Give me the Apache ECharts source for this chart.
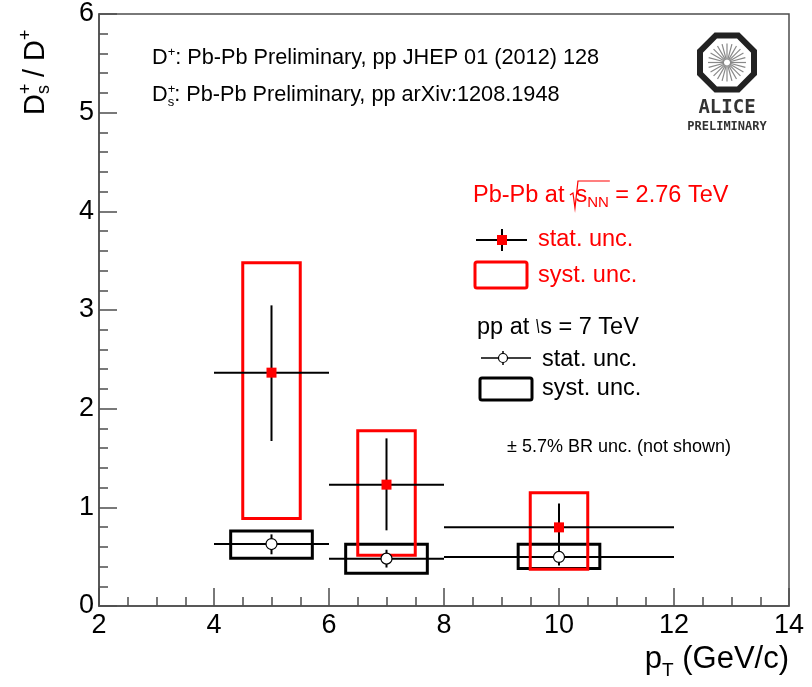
<!DOCTYPE html>
<html><head><meta charset="utf-8">
<script src="https://cdn.jsdelivr.net/npm/echarts@6/dist/echarts.min.js"></script>
<style>html,body{margin:0;padding:0;background:#fff}#c{width:812px;height:687px}</style>
</head><body><div id="c"></div>
<script>
// ---------------- data ----------------
const ptCenter   = [5, 7, 10];
const ptBinLow   = [4, 6, 8];
const ptBinHigh  = [6, 8, 12];

const pbpbValue    = [2.365, 1.23, 0.797];
const pbpbStatLow  = [1.672, 0.767, 0.555];
const pbpbStatHigh = [3.047, 1.699, 1.04];
const pbpbSystLow  = [0.886, 0.514, 0.372];
const pbpbSystHigh = [3.479, 1.777, 1.149];
const pbpbSystXLow = [4.5, 6.5, 9.5];
const pbpbSystXHigh= [5.5, 7.5, 10.5];

const ppValue    = [0.628, 0.48, 0.497];
const ppStatLow  = [0.524, 0.39, 0.41];
const ppStatHigh = [0.726, 0.57, 0.59];
const ppSystLow  = [0.483, 0.331, 0.379];
const ppSystHigh = [0.76, 0.625, 0.625];
const ppSystXLow = [4.29, 6.29, 9.29];
const ppSystXHigh= [5.71, 7.71, 10.71];

const xTickLabels = [2, 4, 6, 8, 10, 12, 14];
const yTickLabels = [0, 1, 2, 3, 4, 5, 6];

// ---------------- helpers ----------------
const FF = '"Liberation Sans", Arial, Helvetica, sans-serif';
const mctx = document.createElement('canvas').getContext('2d');
function tw(t, font) { mctx.font = font; return mctx.measureText(t).width; }
// pieces: {t, s, dy, hold, c}
function run(x0, base, pieces, color, align) {
  let total = 0;
  pieces.forEach(p => { if (!p.hold) total += tw(p.t, p.s + 'px ' + FF); });
  let x = align === 'right' ? x0 - total : x0;
  const els = [];
  pieces.forEach(p => {
    const font = p.s + 'px ' + FF;
    els.push({ type: 'text', x: x, y: base + (p.dy || 0) - 0.31 * p.s, silent: true,
      style: { text: p.t, font: font, fill: p.c || color, verticalAlign: 'middle', align: 'left' } });
    p.x = x;
    if (!p.hold) x += tw(p.t, font);
    p.xe = x;
  });
  return els;
}
const AX = '#4d4d4d';
const LF = 23.5; // legend font size

function boxSeries(xl, xh, yl, yh, color) {
  return {
    type: 'custom', silent: true, animation: false, clip: false,
    data: xl.map((v, i) => [xl[i], xh[i], yl[i], yh[i]]),
    renderItem(params, api) {
      const a = api.coord([api.value(0), api.value(3)]);
      const b = api.coord([api.value(1), api.value(2)]);
      return { type: 'rect', shape: { x: a[0], y: a[1], width: b[0] - a[0], height: b[1] - a[1] },
        style: { fill: 'none', stroke: color, lineWidth: 3 } };
    }
  };
}
function statSeries(xc, xl, xh, v, lo, hi, lw) {
  return {
    type: 'custom', silent: true, animation: false, clip: false,
    data: xc.map((c, i) => [xc[i], v[i], xl[i], xh[i], lo[i], hi[i]]),
    renderItem(params, api) {
      const l = api.coord([api.value(2), api.value(1)]);
      const r = api.coord([api.value(3), api.value(1)]);
      const t = api.coord([api.value(0), api.value(5)]);
      const b = api.coord([api.value(0), api.value(4)]);
      return { type: 'group', children: [
        { type: 'line', shape: { x1: l[0], y1: l[1], x2: r[0], y2: r[1] }, style: { stroke: '#000', lineWidth: lw } },
        { type: 'line', shape: { x1: t[0], y1: t[1], x2: b[0], y2: b[1] }, style: { stroke: '#000', lineWidth: lw } }
      ] };
    }
  };
}

// ---------------- graphic (texts, legend, logo) ----------------
const G = [];
// top-left notes
G.push(...run(152, 65, [
  { t: 'D', s: 21.7 }, { t: '+', s: 13, dy: -9 },
  { t: ': Pb-Pb Preliminary, pp JHEP 01 (2012) 128', s: 21.7 }
], '#000'));
G.push(...run(152, 102, [
  { t: 'D', s: 21.7 }, { t: '+', s: 13, dy: -9, hold: true }, { t: 's', s: 13, dy: 4 },
  { t: ': Pb-Pb Preliminary, pp arXiv:1208.1948', s: 21.7 }
], '#000'));

// Pb-Pb legend title
{
  const p = [
    { t: 'Pb-Pb at ', s: LF }, { t: '  ', s: 8 }, { t: 's', s: LF }, { t: 'NN', s: 15, dy: 5 },
    { t: ' = 2.76 TeV', s: LF }
  ];
  G.push(...run(473, 203, p, '#ff0000'));
  const rx = p[1].x, base = 203;
  G.push({ type: 'polyline', silent: true, shape: { points: [[rx - 1, base - 8], [rx + 2, base - 10], [rx + 4, base + 5], [rx + 7, base - 22], [p[3].xe + 1, base - 22]] },
    style: { stroke: '#ff0000', lineWidth: 1.2, fill: 'none' } });
}
// pp legend title
{
  const p = [
    { t: 'pp at ', s: LF }, { t: '  ', s: 8 }, { t: 's = 7 TeV', s: LF }
  ];
  G.push(...run(477, 335, p, '#000'));
  const rx = p[1].x;
  G.push({ type: 'line', silent: true, shape: { x1: rx + 1, y1: 335 - 16, x2: rx + 3, y2: 335 - 2 }, style: { stroke: '#000', lineWidth: 1.2 } });
}
// legend samples
G.push({ type: 'line', silent: true, shape: { x1: 476, y1: 240, x2: 527, y2: 240 }, style: { stroke: '#000', lineWidth: 2 } });
G.push({ type: 'line', silent: true, shape: { x1: 502, y1: 229, x2: 502, y2: 251 }, style: { stroke: '#000', lineWidth: 2 } });
G.push({ type: 'rect', silent: true, shape: { x: 497, y: 235, width: 10, height: 10 }, style: { fill: '#ff0000' } });
G.push({ type: 'text', silent: true, x: 538, y: 240, style: { text: 'stat. unc.', font: LF + 'px ' + FF, fill: '#ff0000', verticalAlign: 'middle' } });
G.push({ type: 'rect', silent: true, shape: { x: 475, y: 262, width: 52, height: 26, r: 2 }, style: { fill: 'none', stroke: '#ff0000', lineWidth: 3 } });
G.push({ type: 'text', silent: true, x: 538, y: 276, style: { text: 'syst. unc.', font: LF + 'px ' + FF, fill: '#ff0000', verticalAlign: 'middle' } });

G.push({ type: 'line', silent: true, shape: { x1: 481, y1: 358, x2: 531, y2: 358 }, style: { stroke: '#000', lineWidth: 1.5 } });
G.push({ type: 'line', silent: true, shape: { x1: 503, y1: 351, x2: 503, y2: 365 }, style: { stroke: '#000', lineWidth: 1.5 } });
G.push({ type: 'circle', silent: true, shape: { cx: 503, cy: 358, r: 4.5 }, style: { fill: '#fff', stroke: '#000', lineWidth: 1.2 } });
G.push({ type: 'text', silent: true, x: 542, y: 360, style: { text: 'stat. unc.', font: LF + 'px ' + FF, fill: '#000', verticalAlign: 'middle' } });
G.push({ type: 'rect', silent: true, shape: { x: 480, y: 378, width: 52, height: 22, r: 2 }, style: { fill: 'none', stroke: '#000', lineWidth: 3 } });
G.push({ type: 'text', silent: true, x: 542, y: 389, style: { text: 'syst. unc.', font: LF + 'px ' + FF, fill: '#000', verticalAlign: 'middle' } });

G.push({ type: 'text', silent: true, x: 507, y: 447, style: { text: '\u00b1 5.7% BR unc. (not shown)', font: '18px ' + FF, fill: '#000', verticalAlign: 'middle' } });

// axis titles
G.push({ type: 'group', x: 45, y: 115, rotation: Math.PI / 2, silent: true, children: run(0, 0, [
  { t: 'D', s: 29 }, { t: '+', s: 18, dy: -13, hold: true }, { t: 's', s: 18, dy: 5 },
  { t: ' / ', s: 29 }, { t: 'D', s: 29 }, { t: '+', s: 18, dy: -13 }
], '#000') });
G.push(...run(789, 669, [
  { t: 'p', s: 31 }, { t: 'T', s: 19, dy: 8 }, { t: ' (GeV/c)', s: 31 }
], '#000', 'right'));

// ALICE logo
{
  const cx = 727, cy = 62.5, rin = 27, rv = rin / Math.cos(Math.PI / 8);
  const pts = [];
  for (let k = 0; k < 8; k++) { const a = Math.PI / 8 + k * Math.PI / 4; pts.push([cx + rv * Math.cos(a), cy + rv * Math.sin(a)]); }
  G.push({ type: 'polygon', silent: true, shape: { points: pts }, style: { fill: 'none', stroke: '#222', lineWidth: 6, lineJoin: 'miter' } });
  for (let k = 0; k < 24; k++) {
    const a = k * Math.PI / 12;
    G.push({ type: 'line', silent: true, shape: { x1: cx + 3 * Math.cos(a), y1: cy + 3 * Math.sin(a), x2: cx + 19 * Math.cos(a), y2: cy + 19 * Math.sin(a) },
      style: { stroke: '#888', lineWidth: 1.2 } });
  }
  G.push({ type: 'text', silent: true, x: cx, y: 108.5, style: { text: 'ALICE', font: 'bold 19px "DejaVu Sans Mono", "Liberation Mono", monospace', fill: '#333', align: 'center', verticalAlign: 'middle' } });
  G.push({ type: 'text', silent: true, x: cx, y: 127, style: { text: 'PRELIMINARY', font: 'bold 12px "DejaVu Sans Mono", "Liberation Mono", monospace', fill: '#333', align: 'center', verticalAlign: 'middle' } });
}

// ---------------- chart ----------------
const chart = echarts.init(document.getElementById('c'), null, { renderer: 'canvas' });
chart.setOption({
  animation: false,
  backgroundColor: '#fff',
  grid: { left: 99, right: 23, top: 14, bottom: 81, show: true, borderColor: AX, borderWidth: 1.5, backgroundColor: 'transparent' },
  xAxis: {
    type: 'value', min: xTickLabels[0], max: xTickLabels[xTickLabels.length - 1], interval: xTickLabels[1] - xTickLabels[0],
    axisLine: { show: true, onZero: false, lineStyle: { color: AX, width: 1.5 } },
    axisTick: { show: true, inside: true, length: 18, lineStyle: { color: AX, width: 1.5 } },
    minorTick: { show: true, splitNumber: 4, length: 9, lineStyle: { color: AX, width: 1.5 } },
    splitLine: { show: false },
    axisLabel: { color: '#000', fontSize: 27, fontFamily: FF, margin: 6, showMinLabel: true, showMaxLabel: true }
  },
  yAxis: {
    type: 'value', min: yTickLabels[0], max: yTickLabels[yTickLabels.length - 1], interval: yTickLabels[1] - yTickLabels[0],
    axisLine: { show: true, onZero: false, lineStyle: { color: AX, width: 1.5 } },
    axisTick: { show: true, inside: true, length: 18, lineStyle: { color: AX, width: 1.5 } },
    minorTick: { show: true, splitNumber: 5, length: 9, lineStyle: { color: AX, width: 1.5 } },
    splitLine: { show: false },
    axisLabel: { color: '#000', fontSize: 27, fontFamily: FF, margin: 5, showMinLabel: true, showMaxLabel: true }
  },
  series: [
    boxSeries(ppSystXLow, ppSystXHigh, ppSystLow, ppSystHigh, '#000'),
    statSeries(ptCenter, ptBinLow, ptBinHigh, ppValue, ppStatLow, ppStatHigh, 2),
    { type: 'scatter', silent: true, symbol: 'circle', symbolSize: 11,
      data: ptCenter.map((x, i) => [x, ppValue[i]]),
      itemStyle: { color: '#fff', borderColor: '#000', borderWidth: 1.2, opacity: 1 } },
    boxSeries(pbpbSystXLow, pbpbSystXHigh, pbpbSystLow, pbpbSystHigh, '#ff0000'),
    statSeries(ptCenter, ptBinLow, ptBinHigh, pbpbValue, pbpbStatLow, pbpbStatHigh, 2),
    { type: 'scatter', silent: true, symbol: 'rect', symbolSize: 10,
      data: ptCenter.map((x, i) => [x, pbpbValue[i]]),
      itemStyle: { color: '#ff0000', opacity: 1 } }
  ],
  graphic: G
});
</script></body></html>
